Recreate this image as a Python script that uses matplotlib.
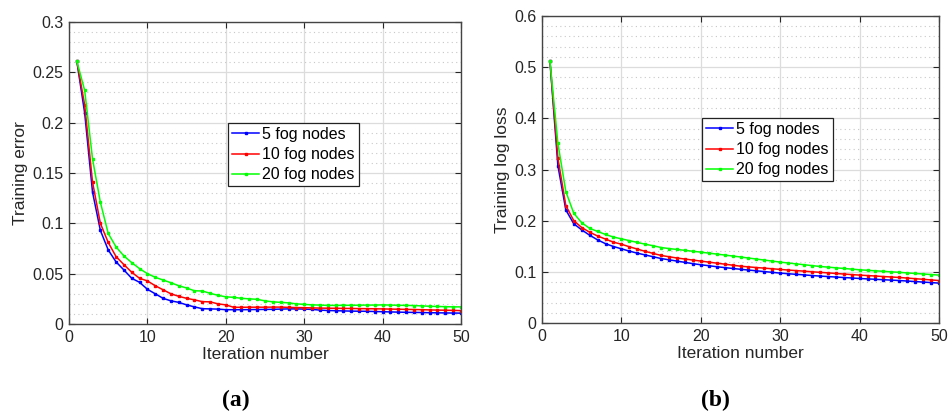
import numpy as np
import matplotlib
matplotlib.use('Agg')
import matplotlib.pyplot as plt
from matplotlib.ticker import MultipleLocator

plt.rcParams['font.family'] = ['Liberation Sans', 'DejaVu Sans']

iters = np.arange(1, 51)
labels = ['5 fog nodes', '10 fog nodes', '20 fog nodes']
colors = ['#0000ff', '#ff0000', '#00ff00']

# (a) training error
err5 = [0.261, 0.2095, 0.131, 0.093, 0.0736, 0.0617, 0.0537, 0.0454, 0.0414, 0.0345,
        0.030, 0.0255, 0.023, 0.0215, 0.019, 0.017, 0.0152, 0.0150, 0.0148, 0.0142,
        0.0142, 0.0142, 0.0143, 0.0144, 0.0145, 0.0146, 0.0148, 0.0150, 0.0150, 0.0148,
        0.0145, 0.0138, 0.0134, 0.0132, 0.0130, 0.0128, 0.0127, 0.0126, 0.0124, 0.0122,
        0.0120, 0.0118, 0.0116, 0.0115, 0.0114, 0.0112, 0.0111, 0.0110, 0.0109, 0.0108]
err10 = [0.261, 0.2175, 0.141, 0.100, 0.081, 0.067, 0.059, 0.0514, 0.0454, 0.0428,
         0.038, 0.034, 0.030, 0.0275, 0.0255, 0.024, 0.0222, 0.022, 0.020, 0.019,
         0.0166, 0.0166, 0.0167, 0.0167, 0.0167, 0.0168, 0.0168, 0.0165, 0.0163, 0.0162,
         0.016, 0.0158, 0.0157, 0.0156, 0.0155, 0.0154, 0.0153, 0.0152, 0.0151, 0.015,
         0.0148, 0.0147, 0.0145, 0.0144, 0.0142, 0.014, 0.0138, 0.0137, 0.0135, 0.0133]
err20 = [0.261, 0.232, 0.164, 0.121, 0.090, 0.0766, 0.0676, 0.061, 0.055, 0.050,
         0.0464, 0.0437, 0.041, 0.038, 0.0358, 0.033, 0.0328, 0.0305, 0.0285, 0.027,
         0.0265, 0.0255, 0.025, 0.0245, 0.023, 0.022, 0.0215, 0.021, 0.020, 0.0195,
         0.019, 0.0188, 0.0185, 0.0185, 0.0186, 0.0186, 0.0187, 0.0188, 0.0188, 0.019,
         0.0188, 0.0186, 0.0185, 0.0183, 0.018, 0.0176, 0.0174, 0.0172, 0.017, 0.017]

# (b) training log loss
loss5 = [0.512, 0.3075, 0.221, 0.194, 0.182, 0.1716, 0.1625, 0.155, 0.1495, 0.145,
         0.1405, 0.1365, 0.133, 0.1295, 0.126, 0.1235, 0.121, 0.1185, 0.116, 0.1138,
         0.112, 0.110, 0.1083, 0.1066, 0.105, 0.1035, 0.102, 0.1005, 0.099, 0.0975,
         0.0963, 0.0951, 0.094, 0.0928, 0.0917, 0.0908, 0.0898, 0.0889, 0.088, 0.087,
         0.0862, 0.0854, 0.0846, 0.0838, 0.083, 0.082, 0.081, 0.080, 0.079, 0.078]
loss10 = [0.512, 0.322, 0.2295, 0.200, 0.1866, 0.1775, 0.170, 0.164, 0.158, 0.154,
          0.149, 0.1445, 0.140, 0.136, 0.132, 0.1295, 0.127, 0.125, 0.123, 0.121,
          0.119, 0.117, 0.115, 0.113, 0.111, 0.1097, 0.1084, 0.1072, 0.106, 0.1047,
          0.1035, 0.1024, 0.1013, 0.1002, 0.099, 0.098, 0.0968, 0.0957, 0.0946, 0.0936,
          0.0927, 0.0918, 0.0908, 0.0899, 0.089, 0.0878, 0.0866, 0.0854, 0.0842, 0.083]
loss20 = [0.512, 0.351, 0.257, 0.2145, 0.196, 0.185, 0.179, 0.173, 0.168, 0.1645,
          0.161, 0.1575, 0.154, 0.151, 0.1475, 0.1455, 0.1437, 0.142, 0.1402, 0.1385,
          0.1366, 0.1347, 0.1328, 0.1309, 0.129, 0.127, 0.125, 0.123, 0.121, 0.119,
          0.1173, 0.1156, 0.1139, 0.1122, 0.1105, 0.1092, 0.1079, 0.1066, 0.1053, 0.104,
          0.103, 0.102, 0.101, 0.100, 0.099, 0.0979, 0.0968, 0.0958, 0.0947, 0.0936]

errTicks = ['0', '0.05', '0.1', '0.15', '0.2', '0.25', '0.3']
lossTicks = ['0', '0.1', '0.2', '0.3', '0.4', '0.5', '0.6']

W, H = 948.0, 412.0
fig = plt.figure(figsize=(9.48, 4.12), dpi=100)
axA = fig.add_axes([69 / W, (H - 324) / H, 392 / W, 302 / H])
axB = fig.add_axes([542 / W, (H - 323) / H, 397 / W, 307 / H])


def drawPanel(ax, series, ymax, ymajor, yminor, ytl, ylabel, legAnchor):
    for vals, c, lab in zip(series, colors, labels):
        ax.plot(iters, vals, '-', color=c, lw=1.1, marker='s', ms=2.1,
                mec=c, mfc=c, label=lab)
    ax.set_xlim(0, 50)
    ax.set_ylim(0, ymax)
    ax.xaxis.set_major_locator(MultipleLocator(10))
    ax.set_yticks(np.arange(0, ymax + ymajor / 2, ymajor))
    ax.set_yticklabels(ytl)
    ax.yaxis.set_minor_locator(MultipleLocator(yminor))
    ax.grid(True, which='major', color='#dcdcdc', lw=0.9, ls='-')
    ax.grid(True, which='minor', axis='y', color='#c8c8c8', lw=0.8, ls=(0, (1, 3)))
    ax.set_axisbelow(True)
    ax.tick_params(which='major', direction='in', length=4, top=True, right=True,
                   labelsize=11.5, colors='#262626', pad=4)
    ax.tick_params(which='minor', length=0)
    for s in ax.spines.values():
        s.set_color('#444444')
        s.set_linewidth(1.0)
    ax.set_xlabel('Iteration number', fontsize=12.5, color='#262626', labelpad=2)
    ax.set_ylabel(ylabel, fontsize=12.5, color='#262626', labelpad=3)
    leg = ax.legend(loc='upper left', bbox_to_anchor=legAnchor, borderaxespad=0,
                    fontsize=11.5, handlelength=1.7, handletextpad=0.2,
                    labelspacing=0.33, borderpad=0.25, fancybox=False,
                    framealpha=1, edgecolor='#222222')
    leg.get_frame().set_linewidth(0.9)


drawPanel(axA, [err5, err10, err20], 0.3, 0.05, 0.01, errTicks, 'Training error', (0.406, 0.666))
drawPanel(axB, [loss5, loss10, loss20], 0.6, 0.1, 0.02, lossTicks, 'Training log loss', (0.403, 0.668))

fig.text(236 / W, 1 - 400 / H, '(a)', ha='center', va='center', fontsize=17,
         fontweight='bold', family='Liberation Serif')
fig.text(715 / W, 1 - 400 / H, '(b)', ha='center', va='center', fontsize=17,
         fontweight='bold', family='Liberation Serif')

fig.savefig('out.png', dpi=100)
